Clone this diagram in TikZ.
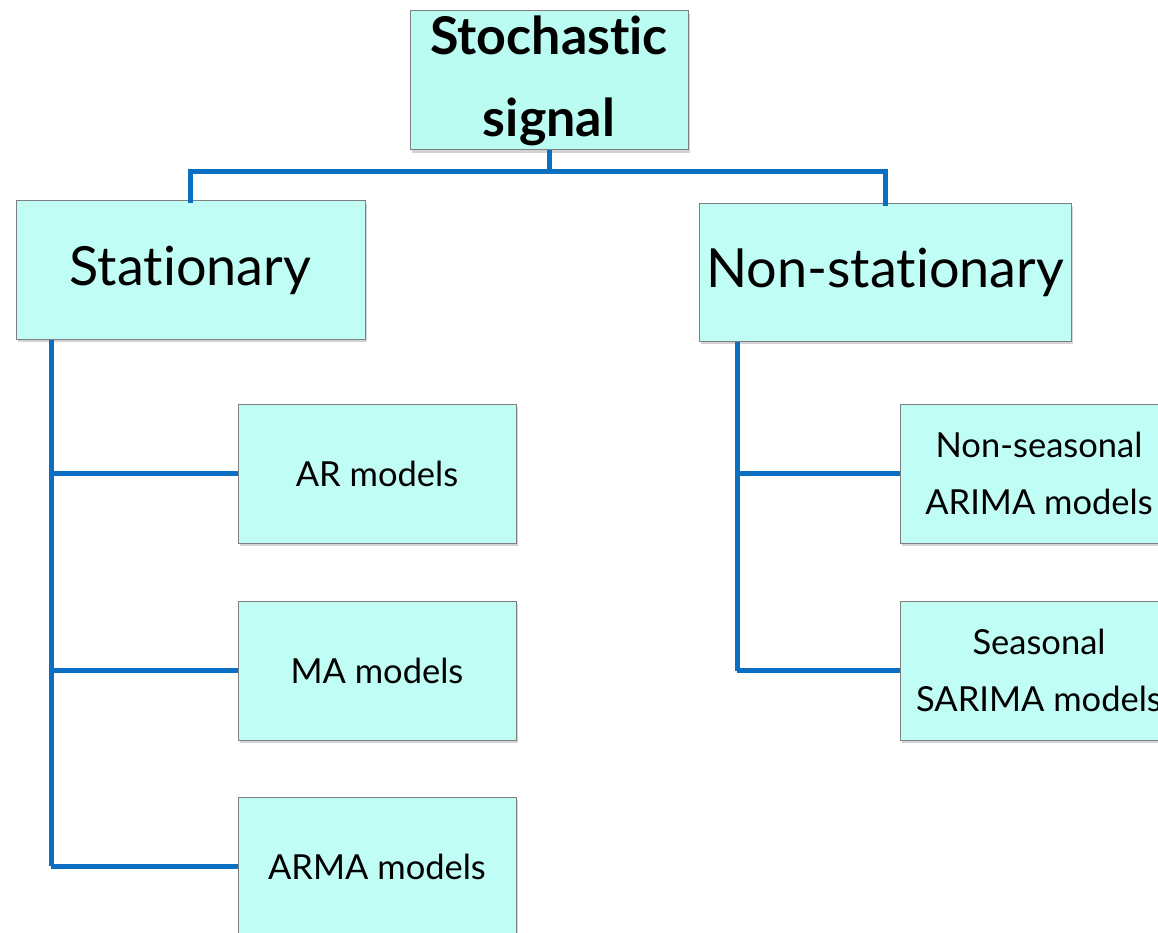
\documentclass[tikz,border=0pt]{standalone}
\usepackage{fontspec}
\setmainfont{Lato}[Ligatures=NoCommon]
\usetikzlibrary{shadows}
\definecolor{boxfill}{HTML}{C0FDF5}
\definecolor{topfill}{HTML}{BAFCF2}
\definecolor{linkblue}{HTML}{0A6FC2}
\definecolor{edgegray}{HTML}{7F7F7F}
\tikzset{
  box/.style={draw=edgegray, line width=1pt, fill=boxfill, inner sep=0pt, align=center,
    drop shadow={opacity=0.35, shadow xshift=2pt, shadow yshift=-3pt}},
  bigbox/.style={box, font=\fontsize{54}{60}\selectfont},
  smallbox/.style={box, minimum width=278pt, minimum height=139pt, font=\fontsize{34.5}{57}\selectfont},
  link/.style={draw=linkblue, line width=5pt}
}
\begin{document}
\begin{tikzpicture}[x=1pt,y=-1pt]
\useasboundingbox (0,0) rectangle (1158,933);
\clip (0,0) rectangle (1158,933);
\coordinate (j) at (549,172);
\node[box, fill=topfill, minimum width=278pt, minimum height=139pt, font=\fontsize{52}{82}\selectfont\bfseries] (top) at (549,80.5) {Stochastic\\signal};
\node[bigbox, minimum width=349pt, minimum height=138pt] (st) at (190.5,270) {Stationary};
\node[bigbox, minimum width=372pt, minimum height=137pt] (ns) at (885,272.5) {Non-stationary};
\node[smallbox] (ar) at (377,473.5) {AR models};
\node[smallbox] (ma) at (377,670.5) {MA models};
\node[smallbox] (arma) at (377,866.5) {ARMA models};
\node[smallbox] (arima) at (1039,473.5) {Non-seasonal\\ARIMA models};
\node[smallbox] (sarima) at (1039,670.5) {Seasonal\\SARIMA models};
\draw[link] (top.south) -- (j);
\draw[link, line cap=rect] (j) -| (st.north);
\draw[link, line cap=rect] (j) -| (ns.north);
\coordinate (lt) at (51,866);
\draw[link] (st.south -| lt) -- (lt);
\draw[link] (ar.west -| lt) -- (ar.west);
\draw[link] (ma.west -| lt) -- (ma.west);
\draw[link] (arma.west -| lt) -- (arma.west);
\coordinate (rt) at (737,670.5);
\draw[link] (ns.south -| rt) -- (rt);
\draw[link] (arima.west -| rt) -- (arima.west);
\draw[link] (sarima.west -| rt) -- (sarima.west);
\end{tikzpicture}
\end{document}
